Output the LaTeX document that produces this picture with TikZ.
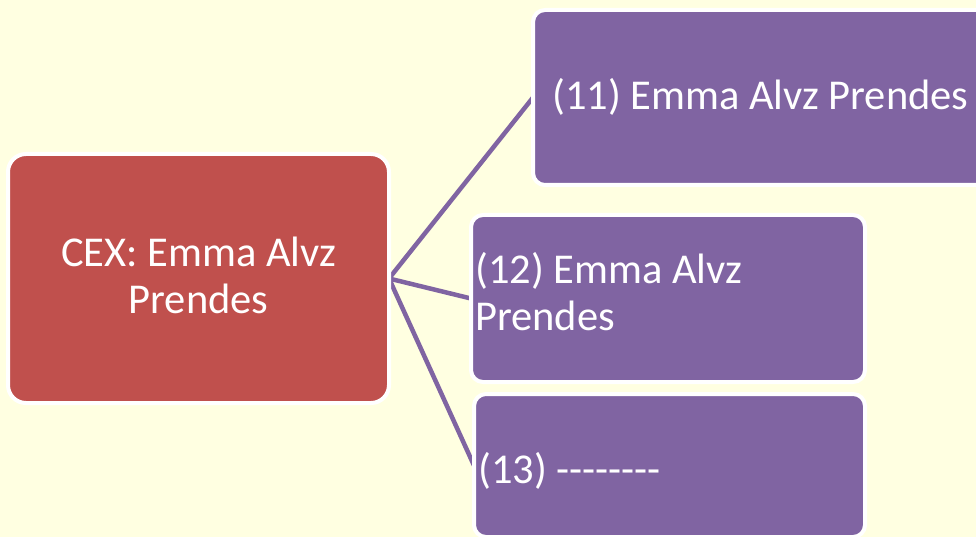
\documentclass[tikz,border=0pt]{standalone}
\usepackage{fontspec}
\setmainfont{Carlito}
\usetikzlibrary{backgrounds}
\definecolor{bgy}{HTML}{FFFFE1}
\definecolor{boxred}{HTML}{C0504D}
\definecolor{boxpurple}{HTML}{8064A2}
\newcommand\hyph{-\kern0pt}
\tikzset{
  box/.style={rectangle, draw=white, line width=4pt, inner sep=0pt, outer sep=0pt},
  rootbox/.style={box, fill=boxred, rounded corners=18pt},
  childbox/.style={box, fill=boxpurple, rounded corners=12pt},
  lbl/.style={text=white, inner sep=0pt, font=\fontsize{42.5}{47}\selectfont},
  conn/.style={draw=boxpurple, line width=4.5pt}
}
\begin{document}
\begin{tikzpicture}[x=1pt,y=-1pt]
\begin{scope}[on background layer]
\fill[bgy] (0,0) rectangle (976,537);
\end{scope}
\useasboundingbox (0,0) rectangle (976,537);
\node[rootbox, minimum width=381pt, minimum height=249pt] (root) at (198.5,278.5) {};
\node[childbox, minimum width=459pt, minimum height=175pt] (c1) at (762.5,97.5) {};
\node[childbox, minimum width=394pt, minimum height=167pt] (c2) at (668,298.5) {};
\node[childbox, minimum width=391pt, minimum height=143pt] (c3) at (669.5,465.5) {};
\node[lbl, align=center, anchor=base] (t0) at (198.5,313) {CEX: Emma Alvz\\Prendes};
\node[lbl, anchor=base west] (t1) at (552,110) {(11) Emma Alvz Prendes};
\node[lbl, align=left, anchor=base west] (t2) at (475,330) {(12) Emma Alvz\\Prendes};
\node[lbl, anchor=base west] (t3) at (478,483) {(13) \hyph\hyph\hyph\hyph\hyph\hyph\hyph\hyph};
\begin{scope}[on background layer]
\draw[conn] (root.east) -- (c1.west);
\draw[conn] (root.east) -- (c2.west);
\draw[conn] (root.east) -- (c3.west);
\end{scope}
\end{tikzpicture}
\end{document}
